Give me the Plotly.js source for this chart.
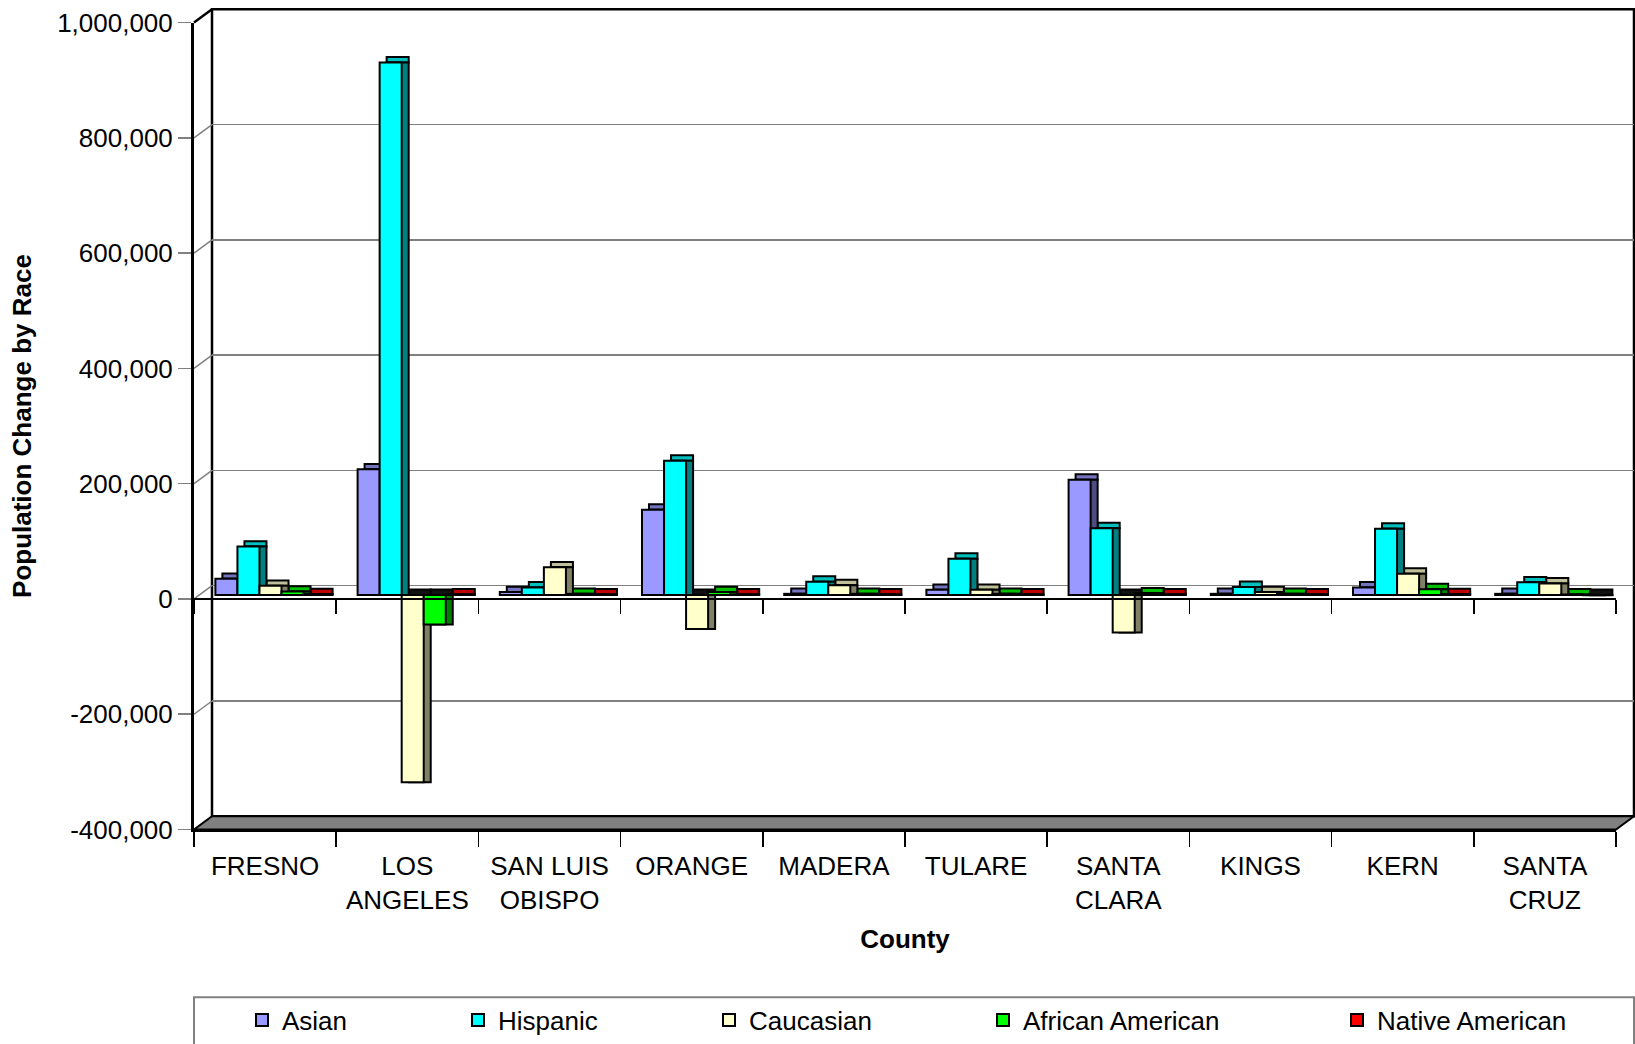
<!DOCTYPE html>
<html>
<head>
<meta charset="utf-8">
<script src="https://cdn.plot.ly/plotly-3.0.1.min.js"></script>
<style>html,body{margin:0;padding:0;background:#fff;}#chart{width:1635px;height:1044px;}</style>
</head>
<body>
<div id="chart"></div>
<script>
// ---------- data ----------
const counties = ['FRESNO','LOS<br>ANGELES','SAN LUIS<br>OBISPO','ORANGE','MADERA','TULARE','SANTA<br>CLARA','KINGS','KERN','SANTA<br>CRUZ'];
const seriesNames = ['Asian','Hispanic','Caucasian','African American','Native American'];
const asian     = [28000, 218000, 5000, 148000, 2000, 9000, 200000, 2000, 13000, 2000];
const hispanic  = [84000, 924000, 13000, 233000, 23000, 63000, 116000, 14000, 115000, 22000];
const caucasian = [16000, -325000, 48000, -59000, 17000, 9000, -65000, 5000, 37000, 20000];
const african   = [6000, -51000, 2000, 5000, 2000, 2000, 3000, 2000, 10000, 1000];
const native    = [1500, 1000, 1000, 1000, 1000, 1000, 1000, 1000, 1500, -500];
const yTickVals = [-400000,-200000,0,200000,400000,600000,800000,1000000];
const yTickText = ['-400,000','-200,000','0','200,000','400,000','600,000','800,000','1,000,000'];
const values = [asian, hispanic, caucasian, african, native];

// ---------- styles ----------
const frontCol = ['#9999FF','#00FFFF','#FFFFCC','#00FF00','#FF0000'];
const sideCol  = ['#4D4D80','#008080','#808066','#008000','#800000'];
const topCol   = ['#7373BF','#00BFBF','#BFBF99','#00BF00','#BF0000'];
const negTopCol = '#111111';
const legendTextX = [282, 498, 749, 1023, 1377];

const W = 1635, H = 1044;
const FX0 = 194, FX1 = 1616, FY0 = 22.7, FY1 = 832.7; // front plane: 1,000,000 .. -400,000
const WALL = [18, -13.3], MID = [5.4, -4], DEP = [7, -5.4];
const YMIN = -400000, YMAX = 1000000;
const unitsPerPx = (YMAX - YMIN) / (FY1 - FY0);
const depthUnits = -DEP[1] * unitsPerPx;
function xd(o){ return [(FX0+o)/W, (FX1+o)/W]; }
function yd(o){ return [1-(FY1+o)/H, 1-(FY0+o)/H]; }
function px2py(v){ return FY1 - (v-YMIN)/(YMAX-YMIN)*(FY1-FY0); }
const FONT = 'Liberation Sans, Arial, sans-serif';
const zeros = counties.map(() => 0);

const traces = [];
// back wall subplot (xy) dummy
traces.push({type:'scatter', x:counties, y:zeros, xaxis:'x', yaxis:'y', mode:'markers', marker:{opacity:0}, showlegend:false, hoverinfo:'skip'});
// top faces (x2y2): a band of bar depth sitting on top of each bar
for (let i=0;i<5;i++) traces.push({type:'bar', x:counties, y:values[i].map(() => depthUnits), base:values[i].map(v => Math.max(v,0)),
  xaxis:'x2', yaxis:'y2', marker:{color:values[i].map(v => v < 0 ? negTopCol : topCol[i]), line:{color:'#000', width:2}}, showlegend:false, hoverinfo:'skip'});
// side faces (x3y3)
for (let i=0;i<5;i++) traces.push({type:'bar', x:counties, y:values[i], xaxis:'x3', yaxis:'y3', marker:{color:sideCol[i], line:{color:'#000', width:2}}, showlegend:false, hoverinfo:'skip'});
// front faces (x4y4)
for (let i=0;i<5;i++) traces.push({type:'bar', name:seriesNames[i], x:counties, y:values[i], xaxis:'x4', yaxis:'y4', marker:{color:frontCol[i], line:{color:'#000', width:2}}, legend: i===0 ? 'legend' : 'legend'+(i+1)});
// front axes dummies
traces.push({type:'scatter', x:counties, y:zeros, xaxis:'x5', yaxis:'y5', mode:'markers', marker:{opacity:0}, showlegend:false, hoverinfo:'skip'});
traces.push({type:'scatter', x:counties, y:zeros, xaxis:'x6', yaxis:'y5', mode:'markers', marker:{opacity:0}, showlegend:false, hoverinfo:'skip'});

function hiddenX(o){ return {domain:xd(o), type:'category', range:[-0.5,9.5], visible:false, fixedrange:true}; }
function hiddenY(o){ return {domain:yd(o), range:[YMIN,YMAX], visible:false, fixedrange:true}; }

const shapes = [];
// back wall
shapes.push({type:'rect', xref:'paper', yref:'paper', x0:(FX0+WALL[0])/W, x1:(FX1+WALL[0])/W, y0:1-(FY1+WALL[1])/H, y1:1-(FY0+WALL[1])/H, line:{color:'#000', width:2.5}, fillcolor:'rgba(0,0,0,0)', layer:'below'});
// side-wall diagonals at each tick
yTickVals.forEach(v => {
  if (v === YMIN) return;
  const yp = px2py(v);
  const top = (v === YMAX);
  shapes.push({type:'line', xref:'paper', yref:'paper', x0:FX0/W, y0:1-yp/H, x1:(FX0+WALL[0])/W, y1:1-(yp+WALL[1])/H, line:{color: top ? '#000' : '#808080', width: top ? 2.5 : 1.5}, layer:'below'});
});
// floor
const fp = [[FX0,FY1],[FX1,FY1],[FX1+WALL[0],FY1+WALL[1]],[FX0+WALL[0],FY1+WALL[1]]];
shapes.push({type:'path', xref:'paper', yref:'paper', path:'M'+fp.map(p => (p[0]/W)+','+(1-p[1]/H)).join('L')+'Z', fillcolor:'#808080', line:{color:'#000', width:2}, layer:'above'});
// legend box
shapes.push({type:'rect', xref:'paper', yref:'paper', x0:FX0/W, x1:1634/W, y0:-0.05, y1:1-1001/H, line:{color:'#808080', width:2}, fillcolor:'rgba(0,0,0,0)'});

const layout = {
  width:W, height:H, margin:{l:0,r:0,t:0,b:0}, paper_bgcolor:'#fff', plot_bgcolor:'rgba(0,0,0,0)',
  barmode:'group', bargap:0.225, bargroupgap:0, hovermode:false,
  font:{family:FONT, size:26, color:'#000'},
  xaxis:{domain:xd(WALL[0]), type:'category', range:[-0.5,9.5], showgrid:false, zeroline:false, showticklabels:false, ticks:'', showline:false, fixedrange:true},
  yaxis:{domain:yd(WALL[1]), range:[YMIN,YMAX], tickvals:yTickVals, showgrid:true, gridcolor:'#808080', gridwidth:1.5, zeroline:false, showticklabels:false, ticks:'', showline:false, fixedrange:true},
  xaxis2:hiddenX(MID[0]+DEP[0]), yaxis2:hiddenY(MID[1]),
  xaxis3:hiddenX(MID[0]+DEP[0]), yaxis3:hiddenY(MID[1]),
  xaxis4:hiddenX(MID[0]), yaxis4:hiddenY(MID[1]),
  xaxis5:{domain:xd(0), anchor:'y5', type:'category', range:[-0.5,9.5], tickson:'boundaries', ticks:'outside', ticklen:15, tickwidth:1.5, tickcolor:'#000', showline:true, linecolor:'#000', linewidth:2, showgrid:false, zeroline:false, tickfont:{size:26}, ticklabelstandoff:12, fixedrange:true,
    title:{text:'County', font:{size:26, weight:'bold'}, standoff:16}},
  xaxis6:{overlaying:'x5', anchor:'free', position:1-px2py(0)/H, type:'category', range:[-0.5,9.5], tickson:'boundaries', ticks:'outside', ticklen:14, tickwidth:1.5, tickcolor:'#000', showline:true, linecolor:'#000', linewidth:2, showgrid:false, zeroline:false, showticklabels:false, fixedrange:true},
  yaxis5:{domain:yd(0), anchor:'x5', range:[YMIN,YMAX], tickvals:yTickVals, ticktext:yTickText, ticks:'outside', ticklen:13, tickwidth:1.5, tickcolor:'#808080', showline:true, linecolor:'#000', linewidth:3, showgrid:false, zeroline:false, tickfont:{size:26}, fixedrange:true,
    title:{text:'Population Change by Race', font:{size:26, weight:'bold'}, standoff:19}},
  shapes:shapes
};
for (let i=0;i<5;i++){
  const key = i===0 ? 'legend' : 'legend'+(i+1);
  layout[key] = {x:(legendTextX[i]-40)/W, xanchor:'left', y:1-1024/H, yanchor:'middle', orientation:'h', bgcolor:'rgba(0,0,0,0)', borderwidth:0, font:{size:26, family:FONT}};
}
Plotly.newPlot('chart', traces, layout, {staticPlot:true, displayModeBar:false});
</script>
</body>
</html>
